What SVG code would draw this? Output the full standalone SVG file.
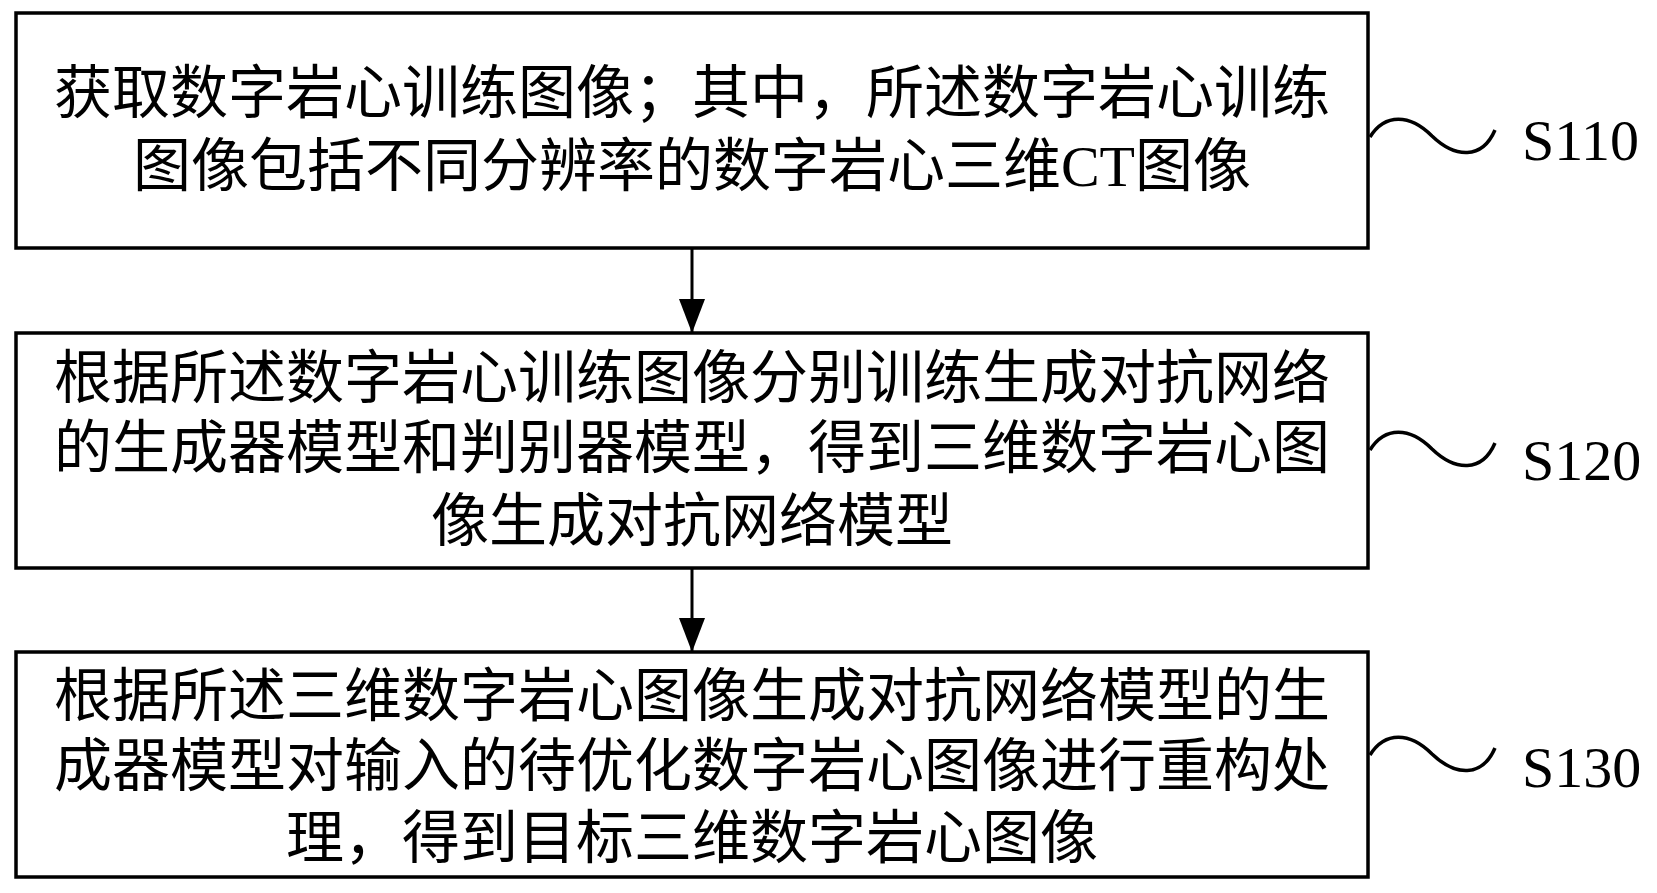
<svg xmlns="http://www.w3.org/2000/svg" width="1657" height="893" viewBox="0 0 1657 893">
<style>
.box{fill:#fff;stroke:#000;stroke-width:3.5}
.t{font-family:"Noto Sans CJK SC","Liberation Serif",sans-serif;font-size:58px;fill:#000;text-anchor:middle}
.lat{font-family:"Liberation Serif",serif}
.lbl{font-family:"Liberation Serif",serif;font-size:58px;fill:#000}
.conn{stroke:#000;stroke-width:3;fill:none}
.tilde{stroke:#000;stroke-width:3.5;fill:none}
</style>
<defs>
<marker id="ah" markerUnits="userSpaceOnUse" markerWidth="36" markerHeight="26" refX="34" refY="13" orient="auto" viewBox="0 0 36 26">
<path d="M0,0 L34,13 L0,26 Z" fill="#000"/>
</marker>
</defs>
<rect width="1657" height="893" fill="#fff"/>
<g id="connectors">
<line class="conn" x1="692" y1="249" x2="692" y2="333" marker-end="url(#ah)"/>
<line class="conn" x1="692" y1="568" x2="692" y2="652" marker-end="url(#ah)"/>
</g>
<g id="S110">
<rect class="box" x="16" y="13" width="1352" height="235"/>
<text class="t" x="692" y="113">获取数字岩心训练图像；其中，所述数字岩心训练</text>
<text class="t" x="692" y="186">图像包括不同分辨率的数字岩心三维<tspan class="lat">CT</tspan>图像</text>
<path class="tilde" d="M1370,137 C1385,113 1410,114 1432,136 C1455,158 1482,160 1495,130"/>
<text class="lbl" x="1522" y="160">S110</text>
</g>
<g id="S120">
<rect class="box" x="16" y="333" width="1352" height="235"/>
<text class="t" x="692" y="398">根据所述数字岩心训练图像分别训练生成对抗网络</text>
<text class="t" x="692" y="468">的生成器模型和判别器模型，得到三维数字岩心图</text>
<text class="t" x="692" y="541">像生成对抗网络模型</text>
<path class="tilde" d="M1370,450 C1385,426 1410,427 1432,449 C1455,471 1482,473 1495,443"/>
<text class="lbl" x="1522" y="480">S120</text>
</g>
<g id="S130">
<rect class="box" x="16" y="652" width="1352" height="225"/>
<text class="t" x="692" y="716">根据所述三维数字岩心图像生成对抗网络模型的生</text>
<text class="t" x="692" y="786">成器模型对输入的待优化数字岩心图像进行重构处</text>
<text class="t" x="692" y="858">理，得到目标三维数字岩心图像</text>
<path class="tilde" d="M1370,755 C1385,731 1410,732 1432,754 C1455,776 1482,778 1495,748"/>
<text class="lbl" x="1522" y="787">S130</text>
</g>
</svg>
